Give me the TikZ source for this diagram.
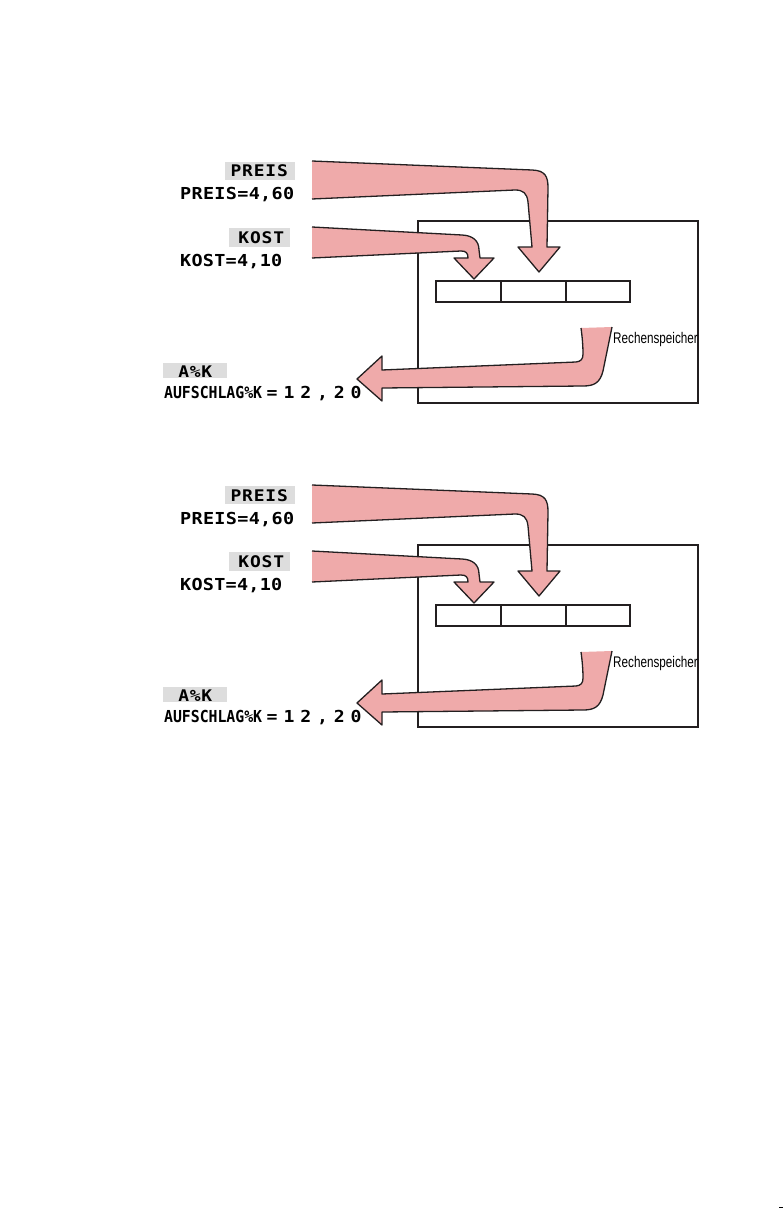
\documentclass[tikz,border=0pt]{standalone}
\usepackage{fontspec}
\usepackage{graphicx}
\newfontfamily\lcdfont{DejaVu Sans Mono}
\newfontfamily\labelfont{Liberation Sans}
\definecolor{arrowpink}{RGB}{239,170,170}
\definecolor{outline}{RGB}{35,31,32}
\definecolor{lcdgray}{RGB}{221,221,221}
\makeatletter
\newcommand\lcdcells[3]{\def\lcd@p{#1}\def\lcd@s{#2}\lcd@loop#3\relax}
\def\lcd@loop#1{\ifx#1\relax\else\makebox[\lcd@p]{\scalebox{\lcd@s}[1]{#1}}\expandafter\lcd@loop\fi}
\makeatother
\tikzset{
  pinkfill/.style={fill=arrowpink},
  arrowedge/.style={draw=outline, line width=1.3pt, line join=round},
  frame/.style={draw=outline, line width=2pt},
  cellbox/.style={draw=outline, line width=1.5pt},
  graybg/.style={fill=lcdgray},
  lcd/.style={anchor=base west, inner sep=0pt, font=\lcdfont\bfseries\fontsize{16}{18}\selectfont},
  lcdb/.style={anchor=base west, inner sep=0pt, font=\lcdfont\bfseries\fontsize{16.5}{18}\selectfont},
  memlabel/.style={anchor=base west, inner sep=0pt, font=\labelfont\fontsize{15.4}{16}\selectfont},
}
\begin{document}
\begin{tikzpicture}[x=1pt,y=-1pt]
\useasboundingbox (0,0) rectangle (783,1209);
\foreach \dy/\n in {0/a,324/b}{
\begin{scope}[shift={(0,\dy)}]
  % gray label backgrounds
  \fill[graybg] (225,162) rectangle (295,180);
  \fill[graybg] (229,228) rectangle (290,247);
  \fill[graybg] (163,363) rectangle (227,378);
  % display texts
  \node[lcd] (preislabel\n) at (230,177) {\lcdcells{11.6pt}{1.12}{PREIS}};
  \node[lcdb] (preisvalue\n) at (179.8,200) {\lcdcells{11.44pt}{1.12}{PREIS=4,60}};
  \node[lcd] (kostlabel\n) at (237.7,243) {\lcdcells{11.67pt}{1.12}{KOST}};
  \node[lcdb] (kostvalue\n) at (179.8,266) {\lcdcells{11.38pt}{1.12}{KOST=4,10}};
  \node[lcd] (aklabel\n) at (177.75,377) {\lcdcells{11.5pt}{1.12}{A\%K}};
  \node[lcdb] (akvalue\n) at (164,398) {\lcdcells{8.9pt}{0.9}{AUFSCHLAG\%K}\hspace{1.7pt}\lcdcells{16.8pt}{1.1}{=12,20}};
  % memory frame and registers
  \draw[frame] (418,221) rectangle (698,403);
  \draw[cellbox] (436,281) rectangle (501,302);
  \draw[cellbox] (501,281) rectangle (566,302);
  \draw[cellbox] (566,281) rectangle (630,302);
  \node[memlabel] (rechen\n) at (613,343) {\scalebox{0.76}[1]{Rechenspeicher}};
  % PREIS arrow
  \fill[pinkfill] (312,161) -- (532,170) .. controls (545,170.5) and (548,176) .. (548,188) -- (547,247) -- (560,247) -- (539,272) -- (518,247) -- (532,247) -- (528,202) .. controls (527,193) and (523,190) .. (515,190) -- (312,199) -- cycle;
  \draw[arrowedge] (312,161) -- (532,170) .. controls (545,170.5) and (548,176) .. (548,188) -- (547,247) -- (560,247) -- (539,272) -- (518,247) -- (532,247) -- (528,202) .. controls (527,193) and (523,190) .. (515,190) -- (312,199);
  % KOST arrow
  \fill[pinkfill] (312,227) -- (462,235) .. controls (473,235.5) and (479,241) .. (479,250) -- (480,258) -- (494,258) -- (474,279) -- (454,258) -- (468,258) .. controls (468,253) and (466,251) .. (461,251) -- (312,258) -- cycle;
  \draw[arrowedge] (312,227) -- (462,235) .. controls (473,235.5) and (479,241) .. (479,250) -- (480,258) -- (494,258) -- (474,279) -- (454,258) -- (468,258) .. controls (468,253) and (466,251) .. (461,251) -- (312,258);
  % result arrow out of the memory
  \fill[pinkfill] (612,327) -- (603,371) .. controls (600,383) and (594,386) .. (583,386) -- (382,388) -- (382,401) -- (357,379) -- (382,356) -- (382,370) -- (576,362) .. controls (581,361.5) and (583,359) .. (583,354) .. controls (583,345) and (582,335) .. (581,328) -- cycle;
  \draw[arrowedge] (612,327) -- (603,371) .. controls (600,383) and (594,386) .. (583,386) -- (382,388) -- (382,401) -- (357,379) -- (382,356) -- (382,370) -- (576,362) .. controls (581,361.5) and (583,359) .. (583,354) .. controls (583,345) and (582,335) .. (581,328);
\end{scope}
}
\fill[black] (779,1207) rectangle (783,1208.3);
\end{tikzpicture}
\end{document}
